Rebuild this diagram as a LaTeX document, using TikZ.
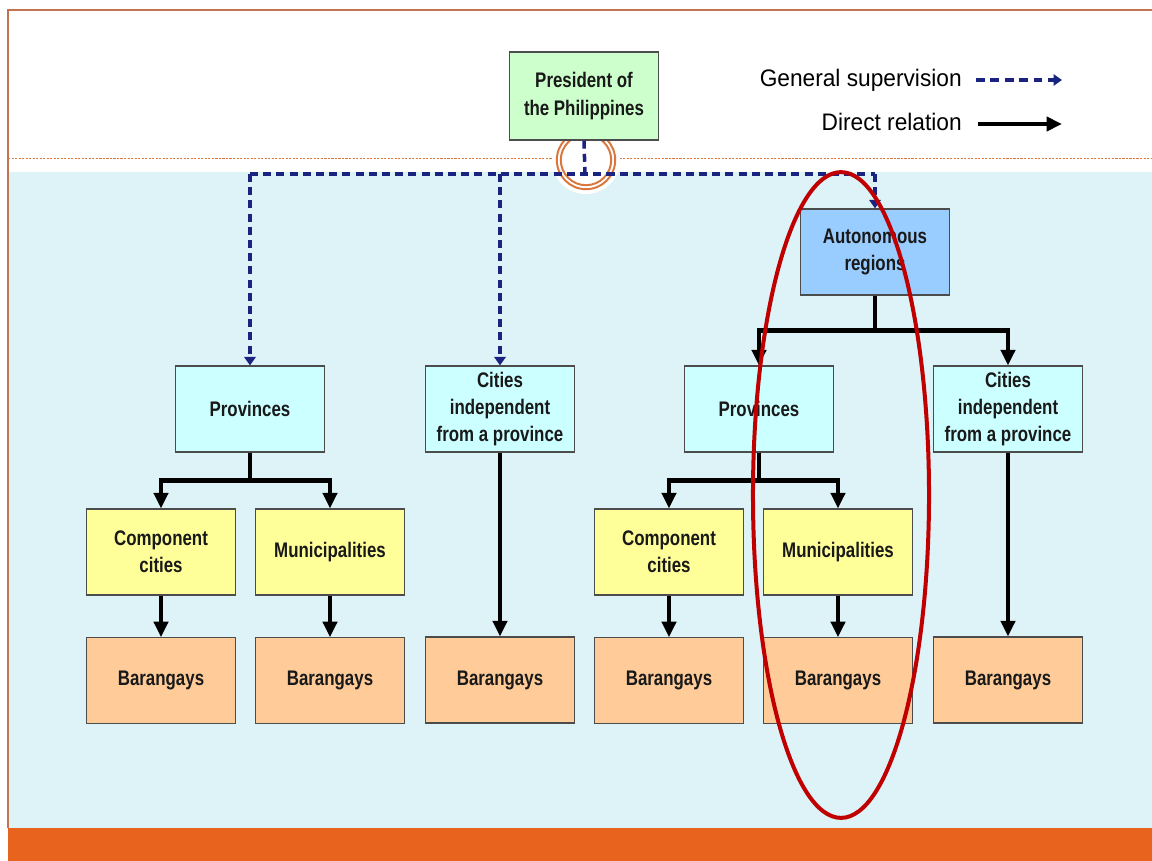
\documentclass[tikz,border=0pt]{standalone}
\usepackage{fontspec}
\setmainfont{Liberation Sans}
\newfontfamily\boxfont{Liberation Sans}[FakeStretch=0.8]
\newfontfamily\legfont{Liberation Sans}[FakeStretch=0.95]
\usetikzlibrary{arrows.meta,positioning}
\definecolor{presgreen}{HTML}{CCFFCC}
\definecolor{regblue}{HTML}{99CCFF}
\definecolor{lvlcyan}{HTML}{CCFFFF}
\definecolor{lvlyellow}{HTML}{FFFF99}
\definecolor{brgyorange}{HTML}{FFCC99}
\definecolor{skyback}{HTML}{DDF3F8}
\definecolor{barorange}{HTML}{E8641E}
\definecolor{framebrown}{HTML}{C27450}
\definecolor{ringorange}{HTML}{D9773F}
\definecolor{supblue}{HTML}{1A2380}
\definecolor{markred}{HTML}{C00000}

\begin{document}
\begin{tikzpicture}[x=0.025cm,y=-0.025cm,
   unit/.style={draw=black!70,line width=0.8pt,minimum width=3.725cm,minimum height=2.15cm,
     inner sep=2pt,align=center,text=black!90,font=\boxfont\bfseries\fontsize{15}{19.5}\selectfont},
   presbox/.style={unit,fill=presgreen,minimum height=2.2cm},
   regbox/.style={unit,fill=regblue},
   lvlone/.style={unit,fill=lvlcyan},
   lvltwo/.style={unit,fill=lvlyellow},
   brgy/.style={unit,fill=brgyorange},
   super/.style={draw=supblue,line width=2.5pt,dash pattern=on 0.2cm off 0.13cm},
   superarr/.style={super,-{Triangle[width=8pt,length=6pt]}},
   rel/.style={draw=black,line width=3.3pt},
   relarr/.style={rel,-{Triangle[width=10pt,length=11pt]}},
   legend/.style={anchor=east,inner sep=0pt,font=\legfont\fontsize{17}{20}\selectfont}]
\useasboundingbox (0,0) rectangle (1152,861);
\fill[white] (0,0) rectangle (1152,861);
\fill[skyback] (9,172) rectangle (1152,828);
\fill[barorange] (8,828) rectangle (1152,861);
\draw[framebrown,line width=1pt] (8,828) -- (8,10) -- (1152,10);
\draw[ringorange,line width=0.6pt,dash pattern=on 1.5pt off 1pt] (8,158) -- (1152,158);
\fill[white] (586,160) circle [radius=0.85cm];
\draw[ringorange,line width=1.4pt] (586,160) circle [radius=0.73cm];
\draw[ringorange,line width=1.4pt] (586,160) circle [radius=0.63cm];

\node[presbox] (pres) at (584,96) {President of\\the Philippines};
\node[regbox] (reg) at (875,252) {Autonomous\\regions};
\node[lvlone] (provA) at (250,409) {Provinces};
\node[lvlone] (citA) at (500,409) {Cities\\independent\\from a province};
\node[lvlone] (provB) at (759,409) {Provinces};
\node[lvlone] (citB) at (1008,409) {Cities\\independent\\from a province};
\node[lvltwo] (compA) at (161,552) {Component\\cities};
\node[lvltwo] (munA) at (330,552) {Municipalities};
\node[lvltwo] (compB) at (669,552) {Component\\cities};
\node[lvltwo] (munB) at (838,552) {Municipalities};
\node[brgy,below=1.04cm of compA] (brgyA) {Barangays};
\node[brgy,below=1.04cm of munA] (brgyB) {Barangays};
\node[brgy] (brgyC) at (500,680) {Barangays};
\node[brgy,below=1.04cm of compB] (brgyD) {Barangays};
\node[brgy,below=1.04cm of munB] (brgyE) {Barangays};
\node[brgy] (brgyF) at (1008,680) {Barangays};

\coordinate (bus) at (585,174);
\draw[super] (pres.south) -- (bus);
\draw[super] (bus -| provA.north) -- (bus -| reg.north);
\draw[superarr] (bus -| provA.north) -- (provA.north);
\draw[superarr] (bus -| citA.north) -- (citA.north);
\draw[superarr] (bus -| reg.north) -- (reg.north);

\draw[relarr] (reg.south) -- ++(0,35) -| (provB.north);
\draw[relarr] (reg.south) -- ++(0,35) -| (citB.north);
\draw[relarr] (provA.south) -- ++(0,28) -| (compA.north);
\draw[relarr] (provA.south) -- ++(0,28) -| (munA.north);
\draw[relarr] (provB.south) -- ++(0,28) -| (compB.north);
\draw[relarr] (provB.south) -- ++(0,28) -| (munB.north);
\draw[relarr] (citA.south) -- (brgyC.north);
\draw[relarr] (citB.south) -- (brgyF.north);
\draw[relarr] (compA.south) -- (brgyA.north);
\draw[relarr] (munA.south) -- (brgyB.north);
\draw[relarr] (compB.south) -- (brgyD.north);
\draw[relarr] (munB.south) -- (brgyE.north);

\node[legend] (supkey) at (962,80) {General supervision};
\node[legend] (relkey) at (962,122) {Direct relation};
\coordinate (supend) at (1062,80);
\coordinate (relend) at (1062,124);
\draw[superarr,dash pattern=on 0.22cm off 0.14cm] ([xshift=0.35cm]supkey.east) -- (supend);
\draw[relarr] ([xshift=0.4cm]relend -| relkey.east) -- (relend);

\draw[markred,line width=0.1cm] (841,495) ellipse [x radius=2.2cm,y radius=8.07cm];
\end{tikzpicture}
\end{document}
